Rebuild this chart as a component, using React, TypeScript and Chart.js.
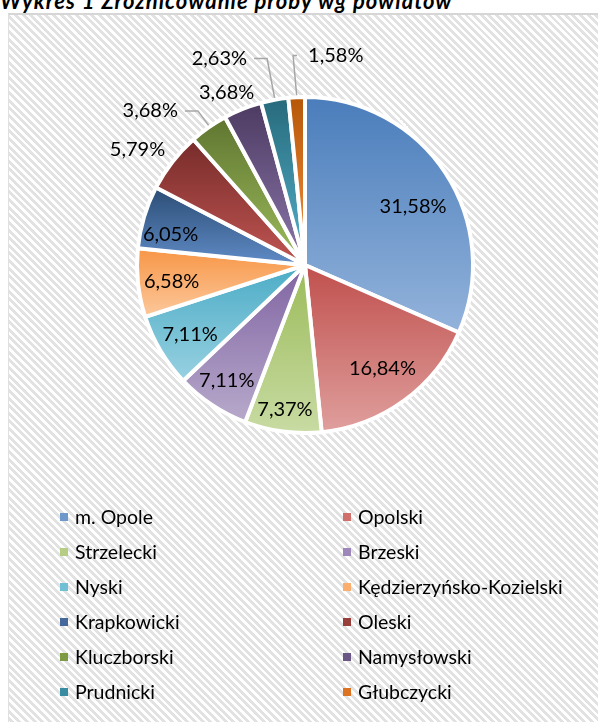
import React, { useEffect, useRef } from "react";
import { Chart, registerables } from "chart.js";

Chart.register(...registerables);

const categories = [
  "m. Opole",
  "Opolski",
  "Strzelecki",
  "Brzeski",
  "Nyski",
  "Kędzierzyńsko-Kozielski",
  "Krapkowicki",
  "Oleski",
  "Kluczborski",
  "Namysłowski",
  "Prudnicki",
  "Głubczycki",
];
const shares = [31.58, 16.84, 7.37, 7.11, 7.11, 6.58, 6.05, 5.79, 3.68, 3.68, 2.63, 1.58];
const valueLabels = shares.map((v) => v.toFixed(2).replace(".", ",") + "%");

const topColors = [
  "#4a7dbb", "#c0504d", "#9bbb59", "#8064a2", "#4bacc6", "#f79646",
  "#2c4d75", "#772c2a", "#5f7530", "#4d3b62", "#276a7c", "#b65708",
];
const bottomColors = [
  "#93b3db", "#df9f9d", "#c8dba3", "#b7a9cb", "#98d1e1", "#fcc89c",
  "#5f8bc6", "#c05552", "#9dbd5d", "#8b77ab", "#55b2cb", "#f5913e",
];
const legendColors = [
  "#6e98cc", "#d0706d", "#b5cd85", "#9e88bb", "#70c0d5", "#fbae6e",
  "#44699a", "#983f3c", "#7e9a45", "#6b5785", "#3a8ca2", "#db7323",
];

const titleText = "Wykres 1 Zróżnicowanie próby wg powiatów";

// label placement: [radius factor, angle shift in degrees, leader line]
const labelPlacement: [number, number, boolean][] = [
  [0.73, 4.9, false],
  [0.77, -0.8, false],
  [0.87, 0.3, false],
  [0.83, 0.5, false],
  [0.8, -0.5, false],
  [0.8, -1.1, false],
  [0.82, -4.0, false],
  [1.21, -3.4, false],
  [1.3, -10.1, true],
  [1.13, -2.6, false],
  [1.33, -12.1, true],
  [1.26, 11.2, true],
];

const BORDER = 4;
const FONT = "Lato, 'Open Sans', sans-serif";

const gradientFill = (ctx: any) => {
  const chart = ctx.chart;
  const i = ctx.dataIndex;
  const area = chart.chartArea;
  if (!area || i === undefined) return topColors[i || 0];
  const cx = (area.left + area.right) / 2;
  const cy = (area.top + area.bottom) / 2;
  const R = (Math.min(area.right - area.left, area.bottom - area.top) - BORDER) / 2;
  const total = shares.reduce((a, b) => a + b, 0);
  let cum = 0;
  for (let k = 0; k < i; k++) cum += shares[k];
  const a0 = -Math.PI / 2 + (2 * Math.PI * cum) / total;
  const a1 = a0 + (2 * Math.PI * shares[i]) / total;
  const ys = [cy, cy + R * Math.sin(a0), cy + R * Math.sin(a1)];
  const inRange = (a: number) => {
    for (let t = a - 4 * Math.PI; t <= a + 4 * Math.PI; t += 2 * Math.PI) {
      if (t >= a0 && t <= a1) return true;
    }
    return false;
  };
  if (inRange(-Math.PI / 2)) ys.push(cy - R);
  if (inRange(Math.PI / 2)) ys.push(cy + R);
  const yMin = Math.min(...ys);
  const yMax = Math.max(...ys);
  const g = chart.ctx.createLinearGradient(0, yMin, 0, yMax);
  g.addColorStop(0, topColors[i]);
  g.addColorStop(1, bottomColors[i]);
  return g;
};

const labelPlugin = {
  id: "pieLabels",
  afterDatasetsDraw(chart: any) {
    const meta = chart.getDatasetMeta(0);
    const c = chart.ctx;
    c.save();
    c.font = `20px ${FONT}`;
    c.textBaseline = "middle";
    c.textAlign = "center";
    meta.data.forEach((arc: any, i: number) => {
      const { x, y, startAngle, endAngle, outerRadius } = arc.getProps(
        ["x", "y", "startAngle", "endAngle", "outerRadius"],
        true
      );
      const mid = (startAngle + endAngle) / 2;
      const [rf, shift, leader] = labelPlacement[i];
      const a = mid + (shift * Math.PI) / 180;
      const lx = x + Math.cos(a) * outerRadius * rf;
      const ly = y + Math.sin(a) * outerRadius * rf;
      const text = valueLabels[i];
      const w = c.measureText(text).width;
      if (leader) {
        const ex = x + Math.cos(mid) * outerRadius;
        const ey = y + Math.sin(mid) * outerRadius;
        let endX: number, elbowX: number;
        if (lx < ex) {
          endX = lx + w / 2 + 7;
          elbowX = endX + 13;
        } else {
          endX = lx - w / 2 - 11;
          elbowX = endX - 4;
        }
        c.beginPath();
        c.strokeStyle = "#a6a6a6";
        c.lineWidth = 1.5;
        c.moveTo(ex, ey - 2);
        c.lineTo(elbowX, ly);
        c.lineTo(endX, ly);
        c.stroke();
      }
      c.fillStyle = "#000000";
      c.fillText(text, lx, ly);
    });
    c.restore();
  },
};

export default function App() {
  const canvasRef = useRef<HTMLCanvasElement | null>(null);

  useEffect(() => {
    if (!canvasRef.current) return;
    const chart = new Chart(canvasRef.current, {
      type: "pie",
      data: {
        labels: categories,
        datasets: [
          {
            data: shares,
            backgroundColor: gradientFill,
            borderColor: "#ffffff",
            borderWidth: BORDER,
          },
        ],
      },
      options: {
        responsive: false,
        animation: false,
        events: [],
        layout: {
          padding: { left: 135, right: 123, top: 95, bottom: 287 },
        },
        plugins: {
          legend: { display: false },
          tooltip: { enabled: false },
          title: { display: false },
        },
      },
      plugins: [labelPlugin],
    });
    return () => chart.destroy();
  }, []);

  return (
    <div
      style={{
        position: "fixed",
        left: 0,
        top: 0,
        width: 598,
        height: 722,
        overflow: "hidden",
        background: "#ffffff",
      }}
    >
      <div
        style={{
          position: "absolute",
          left: 8,
          top: 13,
          width: 620,
          height: 740,
          borderTop: "2px solid #d6d6d6",
          borderLeft: "1px solid #e0e0e0",
          background:
            "repeating-linear-gradient(45deg, #ffffff 0px, #ffffff 2.6px, #e2e2e2 2.6px, #e2e2e2 5.4px)",
        }}
      />
      <div
        style={{
          position: "absolute",
          left: 0,
          top: -11,
          fontFamily: FONT,
          fontWeight: 700,
          fontStyle: "italic",
          fontSize: 22,
          letterSpacing: "1px",
          lineHeight: "24px",
          whiteSpace: "nowrap",
          color: "#000",
        }}
      >
        {titleText}
      </div>
      <canvas
        ref={canvasRef}
        width={598}
        height={722}
        style={{ position: "absolute", left: 0, top: 0, width: 598, height: 722 }}
      />
      <div
        style={{
          position: "absolute",
          left: 60,
          top: 499,
          display: "grid",
          gridTemplateColumns: "283px 250px",
          gridAutoRows: "35px",
          alignItems: "center",
          fontFamily: FONT,
          fontSize: 19.5,
          color: "#000",
        }}
      >
        {categories.map((name, i) => (
          <div key={name} style={{ display: "flex", alignItems: "center", whiteSpace: "nowrap" }}>
            <span
              style={{
                display: "inline-block",
                width: 8,
                height: 8,
                marginRight: 7,
                background: legendColors[i],
              }}
            />
            <span>{name}</span>
          </div>
        ))}
      </div>
    </div>
  );
}
